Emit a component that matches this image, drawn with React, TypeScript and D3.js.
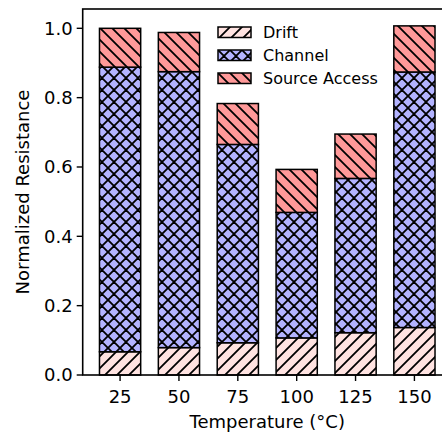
import React from 'react';
import * as d3 from 'd3';

const temperatures = ['25', '50', '75', '100', '125', '150'];
const drift = [0.067, 0.079, 0.093, 0.107, 0.122, 0.137];
const channel = [0.821, 0.796, 0.572, 0.362, 0.445, 0.737];
const sourceAccess = [0.112, 0.113, 0.118, 0.124, 0.128, 0.133];
const yTicks = [0, 0.2, 0.4, 0.6, 0.8, 1.0];

const seriesNames = ['Drift', 'Channel', 'Source Access'];
const fills = ['#ffe3e1', '#b3b3ff', '#ff9999'];
const hatchIds = ['hatch-drift', 'hatch-channel', 'hatch-source'];

const W = 442;
const H = 432;
const left = 82.7;
const right = 451.8;
const top = 9;
const bottom = 375;

const font = '"DejaVu Sans", sans-serif';

export default function App() {
  const x = d3.scaleBand().domain(temperatures).range([left, right]).paddingInner(0.3).paddingOuter(0.285);
  const y = d3.scaleLinear().domain([0, 1.0557]).range([bottom, top]);

  const rows = temperatures.map((t, i) => ({ t, drift: drift[i], channel: channel[i], source: sourceAccess[i] }));
  const stacked = d3.stack<any>().keys(['drift', 'channel', 'source'])(rows);

  const hs = 12;
  const hw = 1.8;

  return (
    <div style={{ position: 'fixed', left: 0, top: 0 }}>
      <svg width={W} height={H} style={{ display: 'block', background: '#fff' }} fontFamily={font}>
        <defs>
          <pattern id={hatchIds[0]} patternUnits="userSpaceOnUse" width={hs} height={hs}>
            <rect width={hs} height={hs} fill={fills[0]} />
            <path d={`M0,${hs} L${hs},0 M${-hs / 2},${hs / 2} L${hs / 2},${-hs / 2} M${hs / 2},${hs * 1.5} L${hs * 1.5},${hs / 2}`} stroke="#000" strokeWidth={hw} />
          </pattern>
          <pattern id={hatchIds[1]} patternUnits="userSpaceOnUse" width={hs} height={hs}>
            <rect width={hs} height={hs} fill={fills[1]} />
            <path d={`M0,0 L${hs},${hs} M0,${hs} L${hs},0 M${-hs / 2},${hs / 2} L${hs / 2},${-hs / 2} M${hs / 2},${hs * 1.5} L${hs * 1.5},${hs / 2} M${-hs / 2},${hs / 2} L${hs / 2},${hs * 1.5} M${hs / 2},${-hs / 2} L${hs * 1.5},${hs / 2}`} stroke="#000" strokeWidth={hw} />
          </pattern>
          <pattern id={hatchIds[2]} patternUnits="userSpaceOnUse" width={hs} height={hs}>
            <rect width={hs} height={hs} fill={fills[2]} />
            <path d={`M0,0 L${hs},${hs} M${-hs / 2},${hs / 2} L${hs / 2},${hs * 1.5} M${hs / 2},${-hs / 2} L${hs * 1.5},${hs / 2}`} stroke="#000" strokeWidth={hw} />
          </pattern>
        </defs>

        {/* bars */}
        {stacked.map((layer, li) => (
          <g key={li}>
            {layer.map((d, i) => (
              <rect
                key={i}
                x={x(temperatures[i])}
                width={x.bandwidth()}
                y={y(d[1])}
                height={y(d[0]) - y(d[1])}
                fill={`url(#${hatchIds[li]})`}
                stroke="#000"
                strokeWidth={1.5}
              />
            ))}
          </g>
        ))}

        {/* spines */}
        <rect x={left} y={top} width={right - left} height={bottom - top} fill="none" stroke="#000" strokeWidth={1.6} />

        {/* y axis */}
        {yTicks.map((t) => (
          <g key={t}>
            <line x1={left - 6} x2={left} y1={y(t)} y2={y(t)} stroke="#000" strokeWidth={1.4} />
            <text x={left - 10} y={y(t)} dy="0.36em" textAnchor="end" fontSize={18} fill="#000">
              {t.toFixed(1)}
            </text>
          </g>
        ))}
        <text
          transform={`translate(29,${(top + bottom) / 2}) rotate(-90)`}
          textAnchor="middle"
          fontSize={18}
          fill="#000"
        >
          Normalized Resistance
        </text>

        {/* x axis */}
        {temperatures.map((t) => {
          const cx = (x(t) as number) + x.bandwidth() / 2;
          return (
            <g key={t}>
              <line x1={cx} x2={cx} y1={bottom} y2={bottom + 6} stroke="#000" strokeWidth={1.4} />
              <text x={cx} y={bottom + 28} textAnchor="middle" fontSize={18} fill="#000">
                {t}
              </text>
            </g>
          );
        })}
        <text x={(left + right) / 2 + 0} y={428} textAnchor="middle" fontSize={18} fill="#000">
          Temperature (°C)
        </text>

        {/* legend */}
        {seriesNames.map((name, i) => (
          <g key={name} transform={`translate(218,${27 + i * 23})`}>
            <rect width={33} height={10.5} fill={`url(#${hatchIds[i]})`} stroke="#000" strokeWidth={1.5} />
            <text x={45} y={5} dy="0.36em" fontSize={16} fill="#000">
              {name}
            </text>
          </g>
        ))}
      </svg>
    </div>
  );
}
